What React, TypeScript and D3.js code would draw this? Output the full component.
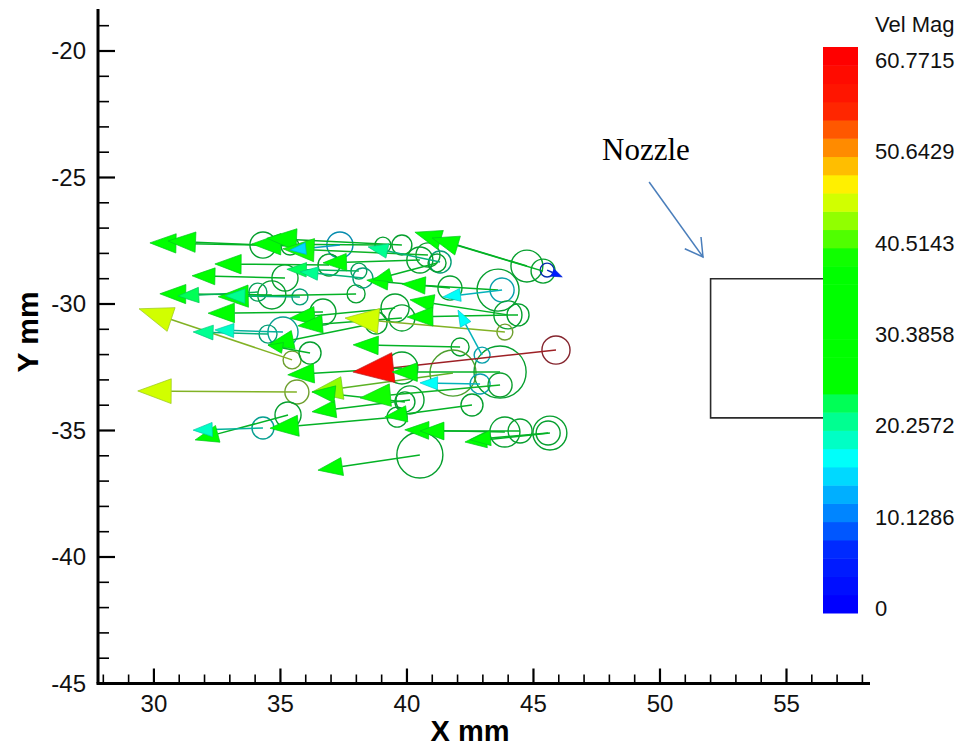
import React from "react";
import * as d3 from "d3";

const W = 966;
const H = 748;

// ---- axes ----
const X_DOMAIN = [27.79, 58.3];
const Y_DOMAIN = [-45, -18.34];
const X_MAJOR = [30, 35, 40, 45, 50, 55];
const Y_MAJOR = [-45, -40, -35, -30, -25, -20];

// ---- particles (mm, velocity m/s) ----
const partX = [34.31, 35.38, 39.05, 39.8, 40.83, 41.31, 37.35, 44.74, 45.38, 45.54, 40.51, 36.92, 35.18, 41.7, 38.1, 43.6, 43.76, 43.99, 34.66, 34.11, 37.99, 35.77, 35.46, 35.65, 43.87, 36.68, 39.53, 44.39, 39.8, 35.1, 34.51, 38.78, 42.1, 36.17, 45.89, 43.68, 39.8, 41.82, 42.89, 43.68, 40.12, 39.92, 42.57, 39.61, 35.3, 34.31, 43.87, 45.65, 44.47, 45.58, 40.51, 42.97, 38.26, 41.19];
const partY = [-27.67, -27.71, -27.67, -27.67, -28.06, -28.34, -27.67, -28.5, -28.7, -28.66, -28.26, -28.46, -28.97, -29.37, -28.7, -29.45, -29.45, -30.43, -29.64, -29.53, -29.6, -29.72, -32.21, -33.48, -31.11, -30.32, -30.16, -30.43, -30.55, -31.11, -31.19, -30.75, -31.7, -31.94, -31.82, -32.69, -32.53, -32.73, -33.16, -33.2, -33.79, -33.87, -33.99, -34.47, -34.39, -34.9, -35.06, -35.1, -35.02, -35.1, -35.97, -32.02, -28.97, -28.38];
const partD = [1.03, 0.71, 0.63, 0.79, 0.95, 0.87, 1.03, 1.26, 0.95, 0.55, 1.03, 0.87, 1.03, 0.95, 0.63, 1.66, 0.95, 1.11, 1.11, 0.71, 0.71, 0.63, 0.71, 0.95, 0.63, 1.03, 1.11, 0.87, 1.03, 1.19, 0.71, 0.87, 0.71, 0.87, 1.11, 2.06, 1.26, 1.82, 0.79, 0.95, 1.11, 0.79, 0.87, 0.79, 1.03, 0.87, 1.19, 1.34, 0.95, 0.95, 1.82, 0.63, 0.79, 0.71];
const partU = [-31.4, -33.9, -36.4, -37.5, -40.3, -20.0, -13.9, -31.1, -30.8, 4.2, -26.9, -31.7, -25.8, -23.1, -20.0, -26.7, -16.4, -27.2, -31.1, -22.2, -38.3, -20.8, -42.5, -44.2, -44.4, -31.9, -29.2, -30.8, -28.9, -18.9, -20.8, -30.0, -29.7, -11.7, -56.4, -30.0, -31.7, -39.2, -16.7, -38.9, -27.2, -25.8, -24.2, -35.3, -25.8, -19.4, -27.8, -23.6, -27.8, -21.7, -28.3, -6.7, -17.5, -17.8];
const partV = [0.6, 1.4, 0.3, 1.9, 1.7, 4.2, -1.4, 9.4, 9.2, -1.9, -0.8, 0.3, 0.6, 2.2, 0.5, 1.7, -1.9, 4.2, 0.3, -1.1, -0.8, 0.3, 14.2, 0.3, 3.9, -0.3, -2.8, -0.6, -2.2, 0.6, 0.6, -6.1, 0.6, 2.2, -6.1, 0.0, -1.9, -5.3, 0.3, -3.6, -3.3, 2.8, -3.3, -3.1, -6.9, -0.6, 0.6, -2.5, 0.0, -1.9, -4.2, 12.5, 1.7, -4.7];
const partMag = [32, 33, 36, 37, 38, 21, 15, 33, 32, 5, 28, 32, 27, 24, 22, 28, 17, 28, 31, 22, 37, 20, 45, 44, 44, 32, 30, 31, 29, 19, 20, 31, 30, 28, 58, 30, 33, 43, 17, 39, 28, 27, 28, 35, 30, 18, 30, 27, 30, 24, 30, 16, 20, 28];

// vector length scale: mm per (m/s)
const VEC_SCALE = 0.1423;

// ---- colour map (Vel Mag) ----
const VEL_MAX = 60.7715;
const N_LEVELS = 30;
const CB_LABELS = [0, 10.1286, 20.2572, 30.3858, 40.5143, 50.6429, 60.7715];
const CMAP_STOPS = [0, 6, 10, 16, 22, 24, 38, 46, 55, 60.7715];
const CMAP_COLORS = ["#0000ff", "#0028ff", "#0082ff", "#00ffff", "#00ff64", "#00ff00", "#00ff00", "#ffff00", "#ff1e00", "#ff0000"];

// ---- nozzle outline & annotation (mm) ----
const NOZZLE_X = [57, 52, 52, 57];
const NOZZLE_Y = [-29, -29, -34.5, -34.5];
const NOTE_TEXT_POS = [47.71, -24.31];
const NOTE_ARROW = [[49.57, -25.18], [51.7, -28.14]];

const FONT = "'Liberation Sans', Arial, Helvetica, sans-serif";

export default function App() {
  const x = d3.scaleLinear().domain(X_DOMAIN).range([98, 870]);
  const y = d3.scaleLinear().domain(Y_DOMAIN).range([683.5, 9]);
  const cmap = d3.scaleLinear<string>().domain(CMAP_STOPS).range(CMAP_COLORS).interpolate(d3.interpolateRgb).clamp(true);
  const dLev = VEL_MAX / N_LEVELS;
  const bandColor = (v: number) => cmap(Math.max(0, Math.min(N_LEVELS, Math.round(v / dLev))) * dLev);
  const dark = (c: string, t: number) => d3.interpolateRgb(c, "#0b3f5c")(t);

  const xMinor = d3.range(28, 58.01, 1).filter((v) => !X_MAJOR.includes(v));
  const yMinor = d3.range(-45, -18.5, 1).filter((v) => !Y_MAJOR.includes(v));
  const x0 = x(X_DOMAIN[0]);
  const y0 = y(Y_DOMAIN[0]);

  // particle marks
  const parts = partX.map((px, i) => {
    const cx = x(px);
    const cy = y(partY[i]);
    const r = x(px + partD[i] / 2) - cx;
    const tx = x(px + partU[i] * VEC_SCALE);
    const ty = y(partY[i] + partV[i] * VEC_SCALE);
    const dx = tx - cx;
    const dy = ty - cy;
    const len = Math.hypot(dx, dy);
    const ux = dx / len;
    const uy = dy / len;
    const hl = 0.16 * len + 8;
    const hw = 0.37 * hl;
    const bx = tx - ux * hl;
    const by = ty - uy * hl;
    const head = `M${tx},${ty}L${bx - uy * hw},${by + ux * hw}L${bx + uy * hw},${by - ux * hw}Z`;
    const c = bandColor(partMag[i]);
    return { cx, cy, r, tx, ty, bx, by, head, c };
  });

  // colour bar
  const cbX = 823;
  const cbW = 35;
  const cbY = d3.scaleLinear().domain([-dLev / 2, (N_LEVELS + 0.5) * dLev]).range([613, 47]);
  const bands = d3.range(0, N_LEVELS + 1).map((i) => ({
    y0: cbY((i + 0.5) * dLev),
    y1: cbY((i - 0.5) * dLev),
    c: cmap(i * dLev),
  }));

  // annotation arrow
  const ax0 = x(NOTE_ARROW[0][0]);
  const ay0 = y(NOTE_ARROW[0][1]);
  const ax1 = x(NOTE_ARROW[1][0]);
  const ay1 = y(NOTE_ARROW[1][1]);
  const ang = Math.atan2(ay0 - ay1, ax0 - ax1);
  const bl = 20;
  const barb1 = [ax1 + bl * Math.cos(ang + Math.PI / 6), ay1 + bl * Math.sin(ang + Math.PI / 6)];
  const barb2 = [ax1 + bl * Math.cos(ang - Math.PI / 6), ay1 + bl * Math.sin(ang - Math.PI / 6)];

  const nozzleLine = d3.line<number>().x((v) => x(v)).y((_, i) => y(NOZZLE_Y[i]));

  return (
    <svg width={W} height={H} style={{ position: "absolute", left: 0, top: 0, background: "#fff" }} fontFamily={FONT}>
      <rect width={W} height={H} fill="#fff" />
      {/* nozzle */}
      <path d={nozzleLine(NOZZLE_X) || ""} fill="none" stroke="#2b2b2b" strokeWidth={1.6} />

      {/* particles */}
      <g>
        {parts.map((p, i) => (
          <circle key={"c" + i} cx={p.cx} cy={p.cy} r={p.r} fill="none" stroke={dark(p.c, 0.5)} strokeWidth={1.4} />
        ))}
        {parts.map((p, i) => (
          <line key={"l" + i} x1={p.cx} y1={p.cy} x2={p.bx} y2={p.by} stroke={dark(p.c, 0.4)} strokeWidth={1.5} />
        ))}
        {parts.map((p, i) => (
          <path key={"h" + i} d={p.head} fill={p.c} stroke={dark(p.c, 0.3)} strokeWidth={0.7} />
        ))}
      </g>

      {/* colour bar */}
      <g>
        {bands.map((b, i) => (
          <rect key={i} x={cbX} y={b.y0} width={cbW} height={b.y1 - b.y0 + 0.5} fill={b.c} />
        ))}
        {CB_LABELS.map((v) => (
          <text key={v} x={875} y={cbY(v) + 4.5} fontSize={22} dominantBaseline="central" fill="#111">
            {String(v)}
          </text>
        ))}
        <text x={875} y={24} fontSize={22} dominantBaseline="central" fill="#111">Vel Mag</text>
      </g>

      {/* axes */}
      <g stroke="#000">
        <line x1={x0} y1={y0} x2={x0} y2={y(Y_DOMAIN[1])} strokeWidth={3} />
        <line x1={x0 - 1.5} y1={y0} x2={x(X_DOMAIN[1])} y2={y0} strokeWidth={3} />
        {Y_MAJOR.map((v) => (
          <line key={"ym" + v} x1={x0} x2={x0 + 17} y1={y(v)} y2={y(v)} strokeWidth={2.2} />
        ))}
        {yMinor.map((v) => (
          <line key={"yn" + v} x1={x0} x2={x0 + 11} y1={y(v)} y2={y(v)} strokeWidth={1.6} />
        ))}
        {X_MAJOR.map((v) => (
          <line key={"xm" + v} x1={x(v)} x2={x(v)} y1={y0} y2={y0 - 15} strokeWidth={2.2} />
        ))}
        {xMinor.map((v) => (
          <line key={"xn" + v} x1={x(v)} x2={x(v)} y1={y0} y2={y0 - 9} strokeWidth={1.6} />
        ))}
      </g>
      <g fontSize={24} fill="#111">
        {Y_MAJOR.map((v) => (
          <text key={"yl" + v} x={86} y={y(v)} textAnchor="end" dominantBaseline="central">{String(v)}</text>
        ))}
        {X_MAJOR.map((v) => (
          <text key={"xl" + v} x={x(v)} y={703} textAnchor="middle" dominantBaseline="central">{String(v)}</text>
        ))}
      </g>
      <text x={470} y={731} fontSize={29} fontWeight="bold" textAnchor="middle" dominantBaseline="central">X mm</text>
      <text transform="translate(27,332) rotate(-90)" fontSize={30} fontWeight="bold" textAnchor="middle" dominantBaseline="central">Y mm</text>

      {/* annotation */}
      <text x={x(NOTE_TEXT_POS[0])} y={y(NOTE_TEXT_POS[1])} fontFamily="'Liberation Serif', 'Times New Roman', serif" fontSize={31} fill="#000">Nozzle</text>
      <g stroke="#4a7ebb" strokeWidth={1.5} fill="none">
        <line x1={ax0} y1={ay0} x2={ax1} y2={ay1} />
        <polyline points={`${barb1[0]},${barb1[1]} ${ax1},${ay1} ${barb2[0]},${barb2[1]}`} />
      </g>
    </svg>
  );
}
